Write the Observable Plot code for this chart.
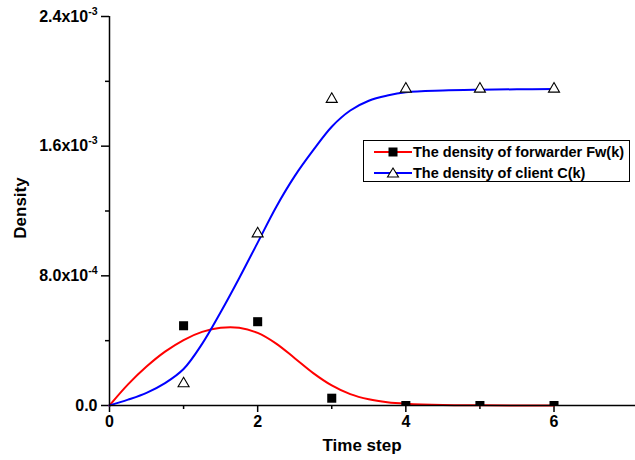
<!DOCTYPE html>
<html>
<head>
<meta charset="utf-8">
<script src="https://cdn.jsdelivr.net/npm/d3@7"></script>
<script src="https://cdn.jsdelivr.net/npm/@observablehq/plot@0.6"></script>
<style>
  html, body { margin: 0; padding: 0; background: #fff; }
  #chart svg { display: block; font-family: "Liberation Sans", Arial, sans-serif; }
</style>
</head>
<body>
<div id="chart"></div>
<script>
// Measured points
const steps = [1, 2, 3, 4, 5, 6];
const forwarder = [4.92e-4, 5.17e-4, 0.45e-4, 0, 0, 0];
const client = [1.35e-4, 1.06e-3, 1.89e-3, 1.953e-3, 1.953e-3, 1.953e-3];

// Fitted curves
const fitX = [0, 0.25, 0.5, 0.75, 1.0, 1.25, 1.5, 1.75, 2.0, 2.25, 2.5, 2.75, 3.0, 3.25, 3.5, 3.75, 4.0, 4.5, 5.0, 5.5, 6.0];
const fitForwarder = [0, 1.30e-4, 2.40e-4, 3.32e-4, 4.04e-4, 4.54e-4, 4.80e-4, 4.80e-4, 4.48e-4, 3.82e-4, 2.92e-4, 2.00e-4, 1.24e-4, 0.70e-4, 0.38e-4, 0.20e-4, 0.11e-4, 0.03e-4, 0.01e-4, 0, 0];
const fitClient = [0, 0.36e-4, 0.78e-4, 1.38e-4, 2.25e-4, 3.8e-4, 5.75e-4, 7.85e-4, 1.005e-3, 1.225e-3, 1.415e-3, 1.575e-3, 1.72e-3, 1.82e-3, 1.88e-3, 1.912e-3, 1.932e-3, 1.943e-3, 1.948e-3, 1.951e-3, 1.953e-3];

const xMajor = [0, 2, 4, 6];
const xMinor = [1, 3, 5];
const yMajor = [0, 8e-4, 1.6e-3, 2.4e-3];
const yMinor = [4e-4, 1.2e-3, 2.0e-3];
const yLabels = ["0.0", "8.0x10^-4", "1.6x10^-3", "2.4x10^-3"];

const seriesNames = ["The density of forwarder Fw(k)", "The density of client C(k)"];
const seriesColors = ["#ff0000", "#0000ff"];

const pts = steps.map((s, i) => ({x: s, f: forwarder[i], c: client[i]}));
const fit = fitX.map((x, i) => ({x, f: fitForwarder[i], c: fitClient[i]}));

const chart = Plot.plot({
  width: 635,
  height: 460,
  marginLeft: 109,
  marginRight: 0,
  marginTop: 16,
  marginBottom: 55,
  x: {domain: [0, 7.1]},
  y: {domain: [0, 2.4e-3]},
  style: {fontFamily: "Liberation Sans, Arial, sans-serif", fontSize: "16px", fontWeight: "bold", color: "#000"},
  marks: [
    Plot.axisX({ticks: xMajor, tickSize: 7, tickPadding: 3, tickFormat: d => String(d), label: null, fontSize: 16, fontWeight: "bold", strokeWidth: 1.5}),
    Plot.axisX({ticks: xMinor, tickSize: 4, tickFormat: () => "", label: null, strokeWidth: 1.5}),
    Plot.axisY({ticks: yMajor, tickSize: 8, tickPadding: 4, tickFormat: d => yLabels[yMajor.indexOf(d)], label: null, fontSize: 16, fontWeight: "bold", strokeWidth: 1.5}),
    Plot.axisY({ticks: yMinor, tickSize: 4, tickFormat: () => "", label: null, strokeWidth: 1.5}),
    Plot.line(fit, {x: "x", y: "f", stroke: seriesColors[0], strokeWidth: 2, curve: "catmull-rom"}),
    Plot.line(fit, {x: "x", y: "c", stroke: seriesColors[1], strokeWidth: 2, curve: "catmull-rom"}),
    Plot.dot(pts, {x: "x", y: "f", symbol: "square", r: 5.1, fill: "#000", stroke: "none", clip: true}),
    Plot.dot(pts, {x: "x", y: "c", symbol: "triangle", r: 4.1, fill: "#fff", stroke: "#000", strokeWidth: 1.1}),
    Plot.ruleX([0], {stroke: "#000", strokeWidth: 1.5}),
    Plot.ruleY([0], {stroke: "#000", strokeWidth: 1.5})
  ]
});

document.getElementById("chart").appendChild(chart);

const svg = d3.select(chart);

// superscripts on y tick labels
svg.selectAll("g[aria-label='y-axis tick label'] text").each(function() {
  const t = d3.select(this);
  const s = t.text();
  if (s.includes("^")) {
    const [base, exp] = s.split("^");
    t.text(base);
    t.append("tspan").attr("dy", "-7").attr("font-size", "10.5").text(exp);
  }
});

// axis titles
svg.append("text")
  .attr("x", 362).attr("y", 451)
  .attr("text-anchor", "middle")
  .attr("font-size", 17).attr("font-weight", "bold")
  .attr("fill", "#000")
  .text("Time step");

svg.append("text")
  .attr("transform", "translate(26,208) rotate(-90)")
  .attr("text-anchor", "middle")
  .attr("font-size", 17).attr("font-weight", "bold")
  .attr("fill", "#000")
  .text("Density");

// legend
const lg = svg.append("g").attr("text-anchor", "start");
lg.append("rect").attr("x", 363.5).attr("y", 140.5).attr("width", 266).attr("height", 41)
  .attr("fill", "#fff").attr("stroke", "#000").attr("stroke-width", 1);
const rowsY = [152, 173];
seriesNames.forEach((name, i) => {
  const y = rowsY[i];
  lg.append("line").attr("x1", 374).attr("x2", 412).attr("y1", y).attr("y2", y)
    .attr("stroke", seriesColors[i]).attr("stroke-width", 2);
  if (i === 0) {
    lg.append("rect").attr("x", 388.5).attr("y", y - 4.5).attr("width", 9).attr("height", 9).attr("fill", "#000");
  } else {
    lg.append("path").attr("d", `M393,${y - 5}L398.5,${y + 4}L387.5,${y + 4}Z`)
      .attr("fill", "#fff").attr("stroke", "#000").attr("stroke-width", 1.1);
  }
  lg.append("text").attr("x", 413).attr("y", y).attr("dy", "0.36em")
    .attr("text-anchor", "start")
    .attr("font-size", 14.5).attr("font-weight", "bold").attr("fill", "#000")
    .text(name);
});
</script>
</body>
</html>
